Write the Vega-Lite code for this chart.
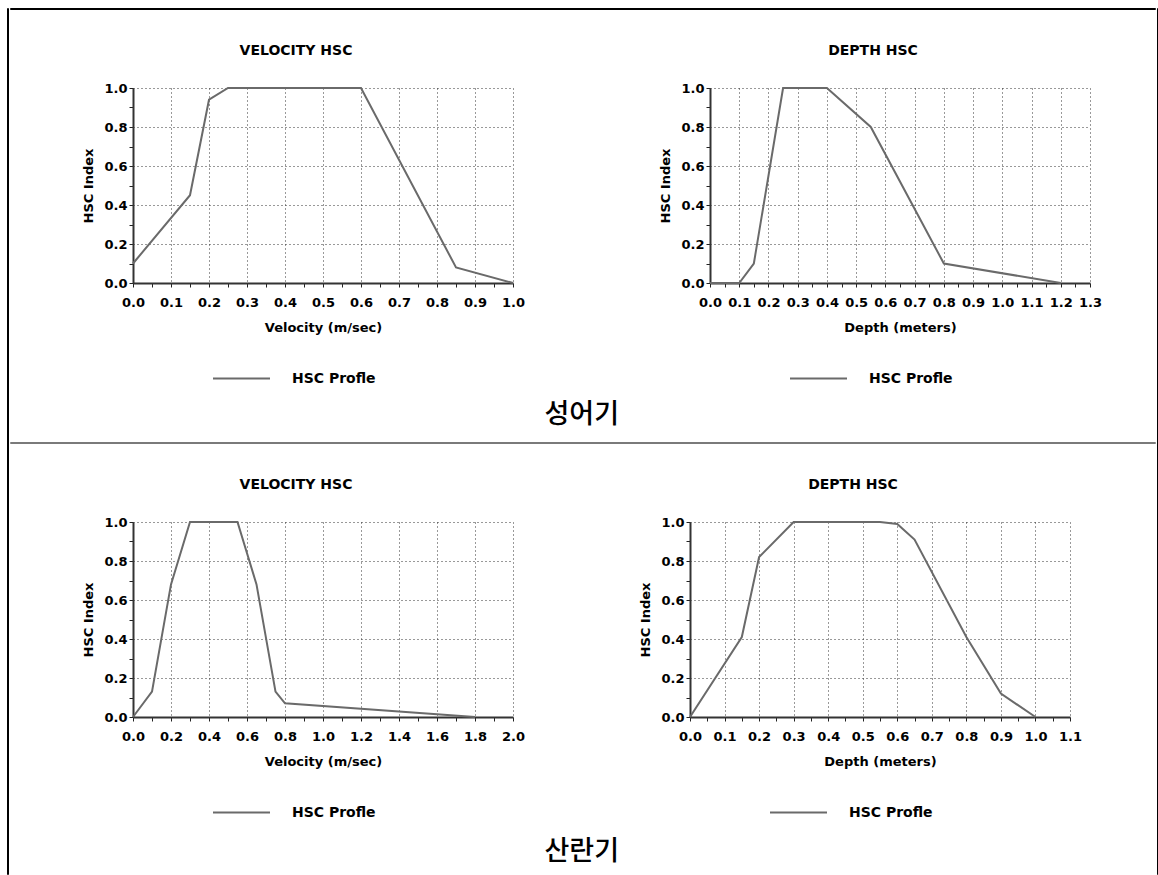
{
  "$schema": "https://vega.github.io/schema/vega-lite/v6.json",
  "background": "white",
  "padding": {"left": 6, "top": 7, "right": 0, "bottom": 0},
  "datasets": {
    "v1": [
      {"velocity": 0.0, "hsc": 0.1},
      {"velocity": 0.15, "hsc": 0.45},
      {"velocity": 0.2, "hsc": 0.94},
      {"velocity": 0.25, "hsc": 1.0},
      {"velocity": 0.6, "hsc": 1.0},
      {"velocity": 0.85, "hsc": 0.08},
      {"velocity": 1.0, "hsc": 0.0}
    ],
    "d1": [
      {"depth": 0.0, "hsc": 0.0},
      {"depth": 0.1, "hsc": 0.0},
      {"depth": 0.15, "hsc": 0.1},
      {"depth": 0.25, "hsc": 1.0},
      {"depth": 0.4, "hsc": 1.0},
      {"depth": 0.55, "hsc": 0.8},
      {"depth": 0.8, "hsc": 0.1},
      {"depth": 1.2, "hsc": 0.0}
    ],
    "v2": [
      {"velocity": 0.0, "hsc": 0.0},
      {"velocity": 0.1, "hsc": 0.13},
      {"velocity": 0.2, "hsc": 0.68},
      {"velocity": 0.3, "hsc": 1.0},
      {"velocity": 0.55, "hsc": 1.0},
      {"velocity": 0.65, "hsc": 0.68},
      {"velocity": 0.75, "hsc": 0.13},
      {"velocity": 0.8, "hsc": 0.07},
      {"velocity": 1.8, "hsc": 0.0}
    ],
    "d2": [
      {"depth": 0.0, "hsc": 0.0},
      {"depth": 0.15, "hsc": 0.41},
      {"depth": 0.2, "hsc": 0.82},
      {"depth": 0.3, "hsc": 1.0},
      {"depth": 0.55, "hsc": 1.0},
      {"depth": 0.6, "hsc": 0.99},
      {"depth": 0.65, "hsc": 0.91},
      {"depth": 0.8, "hsc": 0.41},
      {"depth": 0.9, "hsc": 0.12},
      {"depth": 1.0, "hsc": 0.0}
    ]
  },
  "spacing": 0,
  "resolve": {"scale": {"color": "independent"}, "legend": {"color": "independent"}},
  "hconcat": [
    {"width": 1, "height": 866, "data": {"values": []}, "mark": {"type": "point", "opacity": 0}, "encoding": {}, "view": {"stroke": "#000", "strokeWidth": 1}},
    {
      "spacing": 34,
      "resolve": {"scale": {"color": "independent"}, "legend": {"color": "independent"}},
      "vconcat": [
        {"width": 1145, "height": 1, "data": {"values": []}, "mark": {"type": "point", "opacity": 0}, "encoding": {}, "view": {"stroke": "#000", "strokeWidth": 1}},
        {
          "spacing": 13,
          "resolve": {"scale": {"color": "independent"}, "legend": {"color": "independent"}},
          "vconcat": [
            {
              "spacing": 0,
              "resolve": {"scale": {"color": "independent"}, "legend": {"color": "independent"}},
              "title": {"text": "성어기", "orient": "bottom", "anchor": "middle", "dx": 26, "font": "Noto Sans CJK KR", "fontSize": 27, "fontWeight": 500, "color": "#000", "offset": 16},
              "hconcat": [
                {"width": 72, "height": 1, "data": {"values": []}, "mark": {"type": "point", "opacity": 0}, "encoding": {}},
                {
                  "spacing": 134,
                  "resolve": {"scale": {"color": "independent"}, "legend": {"color": "independent"}},
                  "hconcat": [
                    {
                      "width": 380, "height": 195,
                      "title": {"text": "VELOCITY HSC", "dx": -27, "offset": 24},
                      "data": {"name": "v1"},
                      "mark": {"type": "line", "strokeWidth": 2},
                      "encoding": {
                        "x": {"field": "velocity", "type": "quantitative", "title": "Velocity (m/sec)",
                          "scale": {"domain": [0, 1], "nice": false, "zero": false},
                          "axis": {"values": [0,0.05,0.1,0.15,0.2,0.25,0.3,0.35,0.4,0.45,0.5,0.55,0.6,0.65,0.7,0.75,0.8,0.85,0.9,0.95,1],
                            "labelExpr": "round(datum.value*100) % 10 === 0 ? format(datum.value, '.1f') : ''",
                            "gridOpacity": {"condition": {"test": "round(datum.value*100) % 10 !== 0", "value": 0}, "value": 1}}},
                        "y": {"field": "hsc", "type": "quantitative", "title": "HSC Index",
                          "scale": {"domain": [0, 1], "nice": false},
                          "axis": {"values": [0,0.1,0.2,0.3,0.4,0.5,0.6,0.7,0.8,0.9,1],
                            "labelExpr": "round(datum.value*10) % 2 === 0 ? format(datum.value, '.1f') : ''",
                            "gridOpacity": {"condition": {"test": "round(datum.value*10) % 2 !== 0", "value": 0}, "value": 1}}},
                        "color": {"datum": "HSC Profle", "scale": {"range": ["#6a6a6a"]}, "legend": {"orient": "none", "legendX": 79, "legendY": 261}}
                      }
                    },
                    {
                      "width": 380, "height": 195,
                      "title": {"text": "DEPTH HSC", "dx": -27, "offset": 24},
                      "data": {"name": "d1"},
                      "mark": {"type": "line", "strokeWidth": 2},
                      "encoding": {
                        "x": {"field": "depth", "type": "quantitative", "title": "Depth (meters)",
                          "scale": {"domain": [0, 1.3], "nice": false, "zero": false},
                          "axis": {"values": [0,0.05,0.1,0.15,0.2,0.25,0.3,0.35,0.4,0.45,0.5,0.55,0.6,0.65,0.7,0.75,0.8,0.85,0.9,0.95,1,1.05,1.1,1.15,1.2,1.25,1.3],
                            "labelExpr": "round(datum.value*100) % 10 === 0 ? format(datum.value, '.1f') : ''",
                            "gridOpacity": {"condition": {"test": "round(datum.value*100) % 10 !== 0", "value": 0}, "value": 1}}},
                        "y": {"field": "hsc", "type": "quantitative", "title": "HSC Index",
                          "scale": {"domain": [0, 1], "nice": false},
                          "axis": {"values": [0,0.1,0.2,0.3,0.4,0.5,0.6,0.7,0.8,0.9,1],
                            "labelExpr": "round(datum.value*10) % 2 === 0 ? format(datum.value, '.1f') : ''",
                            "gridOpacity": {"condition": {"test": "round(datum.value*10) % 2 !== 0", "value": 0}, "value": 1}}},
                        "color": {"datum": "HSC Profle", "scale": {"range": ["#6a6a6a"]}, "legend": {"orient": "none", "legendX": 79, "legendY": 261}}
                      }
                    }
                  ]
                }
              ]
            },
            {"width": 1145, "height": 1, "data": {"values": []}, "mark": {"type": "point", "opacity": 0}, "encoding": {}, "view": {"stroke": "#7a7a7a", "strokeWidth": 1}}
          ]
        },
        {
          "spacing": 0,
          "resolve": {"scale": {"color": "independent"}, "legend": {"color": "independent"}},
          "title": {"text": "산란기", "orient": "bottom", "anchor": "middle", "dx": 36, "font": "Noto Sans CJK KR", "fontSize": 27, "fontWeight": 500, "color": "#000", "offset": 19},
          "hconcat": [
            {"width": 72, "height": 1, "data": {"values": []}, "mark": {"type": "point", "opacity": 0}, "encoding": {}},
            {
              "spacing": 114,
              "resolve": {"scale": {"color": "independent"}, "legend": {"color": "independent"}},
              "hconcat": [
                {
                  "width": 380, "height": 195,
                  "title": {"text": "VELOCITY HSC", "dx": -27, "offset": 24},
                  "data": {"name": "v2"},
                  "mark": {"type": "line", "strokeWidth": 2},
                  "encoding": {
                    "x": {"field": "velocity", "type": "quantitative", "title": "Velocity (m/sec)",
                      "scale": {"domain": [0, 2], "nice": false, "zero": false},
                      "axis": {"values": [0,0.1,0.2,0.3,0.4,0.5,0.6,0.7,0.8,0.9,1,1.1,1.2,1.3,1.4,1.5,1.6,1.7,1.8,1.9,2],
                        "labelExpr": "round(datum.value*10) % 2 === 0 ? format(datum.value, '.1f') : ''",
                        "gridOpacity": {"condition": {"test": "round(datum.value*10) % 2 !== 0", "value": 0}, "value": 1}}},
                    "y": {"field": "hsc", "type": "quantitative", "title": "HSC Index",
                      "scale": {"domain": [0, 1], "nice": false},
                      "axis": {"values": [0,0.1,0.2,0.3,0.4,0.5,0.6,0.7,0.8,0.9,1],
                        "labelExpr": "round(datum.value*10) % 2 === 0 ? format(datum.value, '.1f') : ''",
                        "gridOpacity": {"condition": {"test": "round(datum.value*10) % 2 !== 0", "value": 0}, "value": 1}}},
                    "color": {"datum": "HSC Profle", "scale": {"range": ["#6a6a6a"]}, "legend": {"orient": "none", "legendX": 79, "legendY": 261}}
                  }
                },
                {
                  "width": 380, "height": 195,
                  "title": {"text": "DEPTH HSC", "dx": -27, "offset": 24},
                  "data": {"name": "d2"},
                  "mark": {"type": "line", "strokeWidth": 2},
                  "encoding": {
                    "x": {"field": "depth", "type": "quantitative", "title": "Depth (meters)",
                      "scale": {"domain": [0, 1.1], "nice": false, "zero": false},
                      "axis": {"values": [0,0.05,0.1,0.15,0.2,0.25,0.3,0.35,0.4,0.45,0.5,0.55,0.6,0.65,0.7,0.75,0.8,0.85,0.9,0.95,1,1.05,1.1],
                        "labelExpr": "round(datum.value*100) % 10 === 0 ? format(datum.value, '.1f') : ''",
                        "gridOpacity": {"condition": {"test": "round(datum.value*100) % 10 !== 0", "value": 0}, "value": 1}}},
                    "y": {"field": "hsc", "type": "quantitative", "title": "HSC Index",
                      "scale": {"domain": [0, 1], "nice": false},
                      "axis": {"values": [0,0.1,0.2,0.3,0.4,0.5,0.6,0.7,0.8,0.9,1],
                        "labelExpr": "round(datum.value*10) % 2 === 0 ? format(datum.value, '.1f') : ''",
                        "gridOpacity": {"condition": {"test": "round(datum.value*10) % 2 !== 0", "value": 0}, "value": 1}}},
                    "color": {"datum": "HSC Profle", "scale": {"range": ["#6a6a6a"]}, "legend": {"orient": "none", "legendX": 79, "legendY": 261}}
                  }
                }
              ]
            }
          ]
        }
      ]
    },
    {"width": 1, "height": 866, "data": {"values": []}, "mark": {"type": "point", "opacity": 0}, "encoding": {}, "view": {"stroke": "#000", "strokeWidth": 1}}
  ],
  "config": {
    "font": "DejaVu Sans",
    "view": {"stroke": null},
    "axis": {
      "labelFont": "DejaVu Sans", "labelFontWeight": "bold", "labelFontSize": 13, "labelColor": "#000",
      "titleFont": "DejaVu Sans", "titleFontWeight": "bold", "titleFontSize": 13, "titleColor": "#000",
      "domainColor": "#333", "domainWidth": 2, "tickColor": "#222", "tickWidth": 1, "tickSize": 4,
      "gridColor": "#333", "gridDash": [1, 3], "gridWidth": 1,
      "labelFlush": false, "labelOverlap": false
    },
    "axisX": {"labelPadding": 9, "titlePadding": 12},
    "axisY": {"labelPadding": 2, "titlePadding": 8},
    "title": {"font": "DejaVu Sans", "fontWeight": "bold", "fontSize": 14, "color": "#000"},
    "legend": {
      "title": null, "symbolType": "stroke", "symbolSize": 3249, "symbolStrokeWidth": 2,
      "labelOffset": 21, "labelFont": "DejaVu Sans", "labelFontWeight": "bold", "labelFontSize": 14,
      "labelColor": "#000", "padding": 0
    }
  }
}
